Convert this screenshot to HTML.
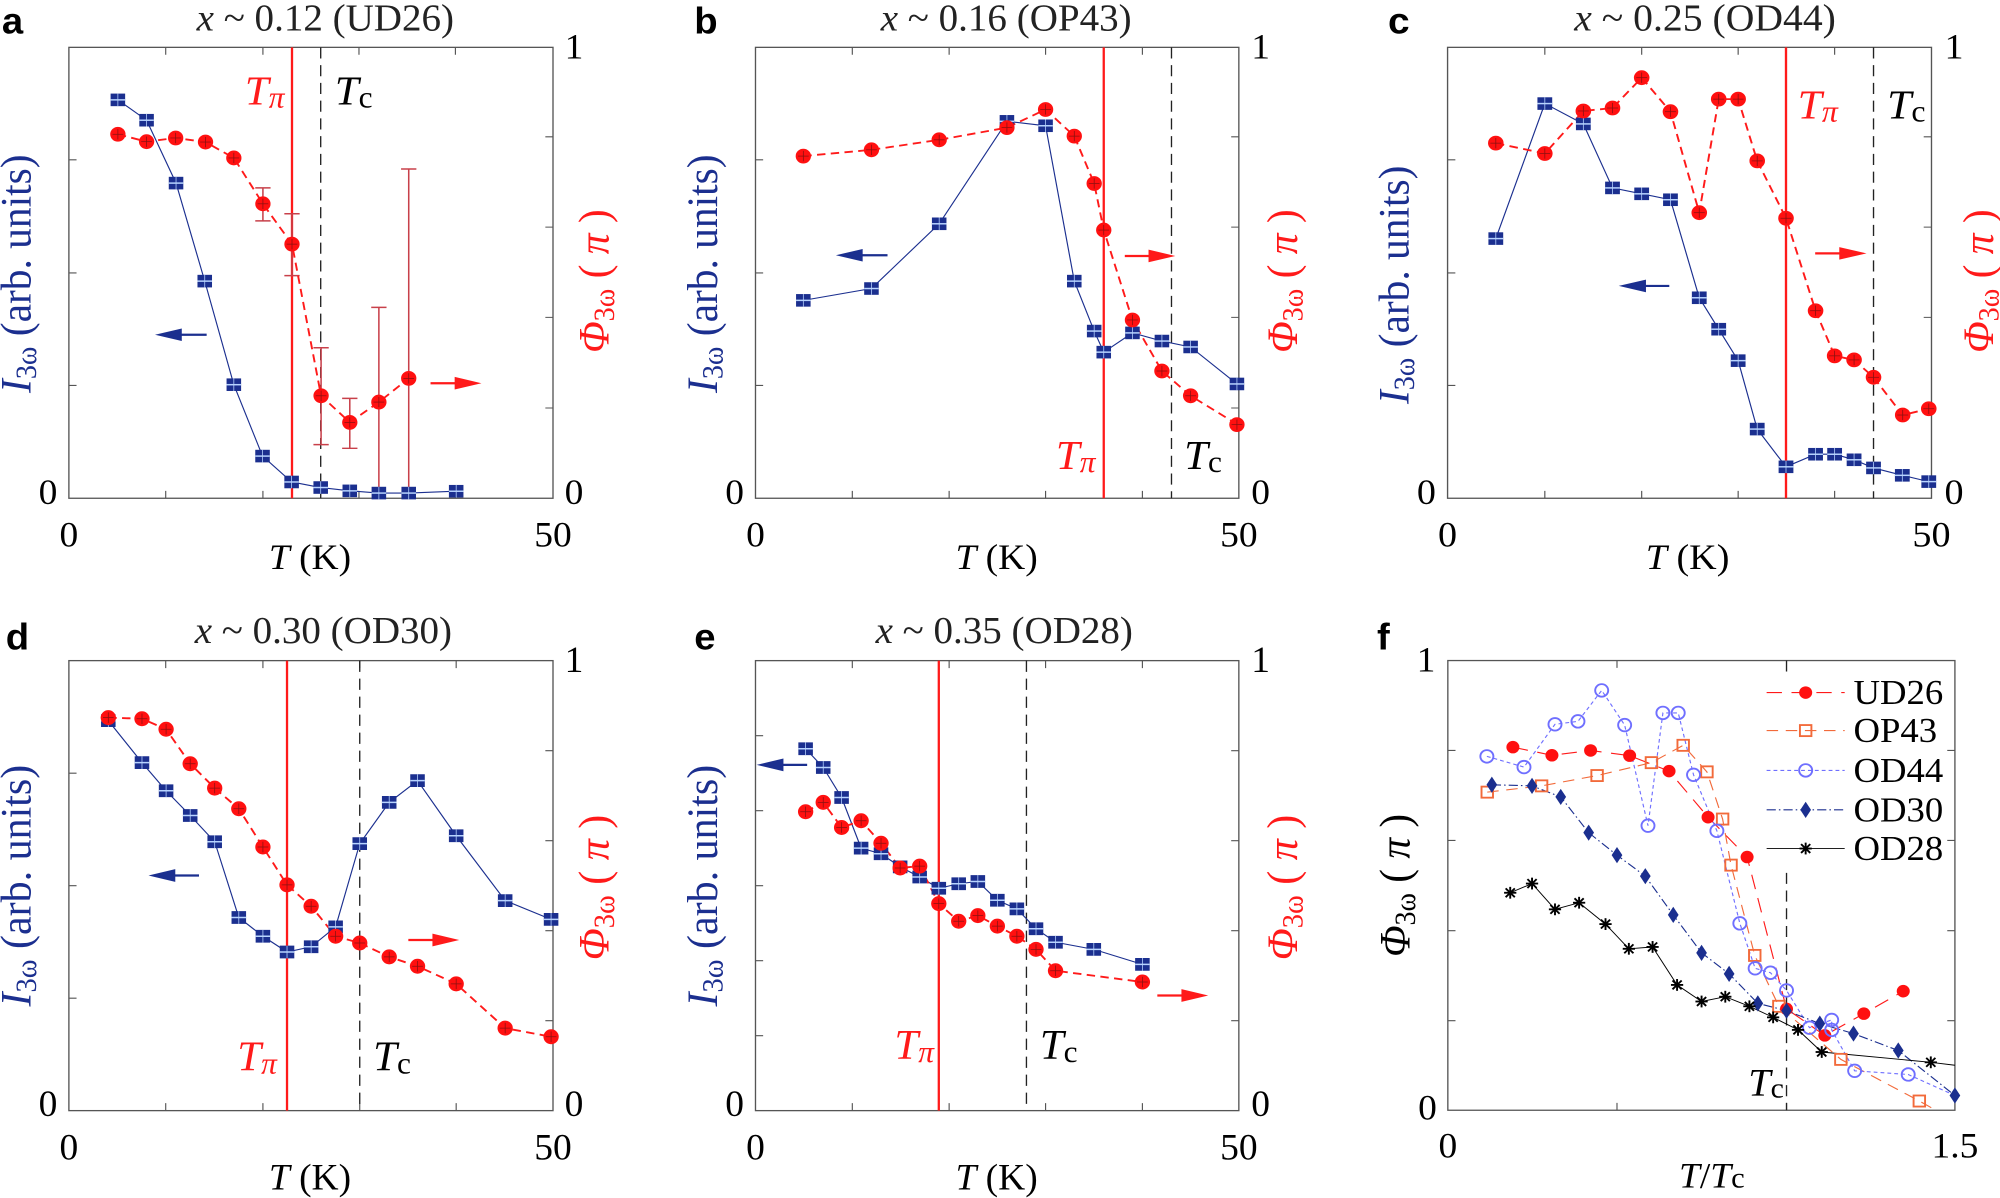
<!DOCTYPE html>
<html><head><meta charset="utf-8"><style>
html,body{margin:0;padding:0;background:#fff;}
svg{display:block;}
text{font-family:"Liberation Serif",serif;}
.t{font-size:98px;fill:#000;}
.ttl{font-size:102px;fill:#222;}
.let{font-family:"Liberation Sans",sans-serif;font-weight:bold;font-size:100px;}
.box{fill:none;stroke:#555;stroke-width:3.5;}
.tk{stroke:#555;stroke-width:3;}
.bl{fill:none;stroke:#1b2f8f;stroke-width:3;}
.rd{fill:none;stroke:#ff1a1a;stroke-width:5;stroke-dasharray:22 14;}
.tpi{stroke:#ff1a1a;stroke-width:6;}
.tc{stroke:#222;stroke-width:3.5;stroke-dasharray:30 18;}
.eb{stroke:#c8404a;stroke-width:4;fill:none;}
</style></head><body>
<svg width="2000" height="1198" viewBox="0 0 2000 1198" xmlns="http://www.w3.org/2000/svg" xmlns:xlink="http://www.w3.org/1999/xlink">
<defs>
<g id="sq"><rect x="-19" y="-17" width="38" height="34" fill="#1b2f8f"/><line x1="-19" x2="19" y1="0" y2="0" stroke="#b8d4ff" stroke-width="4"/><line x1="0" x2="0" y1="-17" y2="17" stroke="#b8d4ff" stroke-width="2"/></g>
<g id="ci"><circle r="20" fill="#ff1010"/><line x1="-14" x2="14" y1="0" y2="0" stroke="#8a1010" stroke-width="2"/><line x1="0" x2="0" y1="-14" y2="14" stroke="#8a1010" stroke-width="2"/></g>
<circle id="fc" r="17" fill="#ff1010"/>
<rect id="fs" x="-15" y="-15" width="30" height="30" fill="none" stroke="#f26a3a" stroke-width="5"/>
<circle id="fo" r="17" fill="none" stroke="#6f6fff" stroke-width="5"/>
<polygon id="fd" points="0,-22 14,0 0,22 -14,0" fill="#1b2f8f"/>
<g id="fa" stroke="#000" stroke-width="5"><line x1="-16" x2="16" y1="0" y2="0"/><line x1="0" x2="0" y1="-16" y2="16"/><line x1="-12" x2="12" y1="-12" y2="12"/><line x1="-12" x2="12" y1="12" y2="-12"/></g>
</defs>

<!-- Panel a -->
<g transform="translate(0,0) scale(0.3827,0.3699)">
<text class="let" x="5" y="90">a</text>
<text class="ttl" x="850" y="82" text-anchor="middle"><tspan font-style="italic">x</tspan> ~ 0.12 (UD26)</text>
<rect class="box" x="180" y="128" width="1265" height="1219"/>
<path class="tk" d="M433,1347v-20M687,1347v-20M938,1347v-20M1190,1347v-20M433,128v20M687,128v20M938,128v20M1190,128v20M180,432h20M180,738h20M180,1042h20M1445,370h-20M1445,614h-20M1445,858h-20M1445,1103h-20"/>
<text class="t" x="150" y="1362" text-anchor="end">0</text>
<text class="t" x="1500" y="158" text-anchor="middle">1</text>
<text class="t" x="1500" y="1362" text-anchor="middle">0</text>
<text class="t" x="180" y="1478" text-anchor="middle">0</text>
<text class="t" x="1445" y="1478" text-anchor="middle">50</text>
<text class="t" x="810" y="1538" text-anchor="middle"><tspan font-style="italic">T</tspan> (K)</text>
<text transform="translate(80,740) rotate(-90)" text-anchor="middle" font-size="112" fill="#1b2f8f"><tspan font-style="italic">I</tspan><tspan font-size="76" dy="14">3ω</tspan><tspan dy="-14"> (arb. units)</tspan></text>
<text transform="translate(1590,760) rotate(-90)" text-anchor="middle" font-size="112" fill="#ff1a1a"><tspan font-style="italic">Φ</tspan><tspan font-size="76" dy="14">3ω</tspan><tspan dy="-14"> ( </tspan><tspan font-style="italic">π</tspan><tspan> )</tspan></text>
<line class="tpi" x1="763" y1="128" x2="763" y2="1347"/>
<line class="tc" x1="838" y1="128" x2="838" y2="1347"/>
<text x="640" y="282" font-size="112" fill="#ff1a1a"><tspan font-style="italic">T</tspan><tspan font-size="82" font-style="italic" dy="8">π</tspan></text>
<text x="875" y="282" font-size="112" fill="#000"><tspan font-style="italic">T</tspan><tspan font-size="82" dy="8">c</tspan></text>
<path class="eb" d="M687,508V597M667,508h40M667,597h40M763,578V745M743,578h40M743,745h40M839,940V1202M819,940h40M819,1202h40M914,1077V1212M894,1077h40M894,1212h40M990,831V1330M970,831h40M1068,457V1330M1048,457h40"/>
<polyline class="bl" points="308,270 383,325 460,495 535,760 611,1040 686,1233 762,1303 838,1318 914,1327 990,1333 1068,1333 1192,1328"/>
<polyline class="rd" points="308,363 383,383 459,373 537,384 611,427 687,551 763,660 839,1070 914,1142 990,1087 1068,1023"/>
<use xlink:href="#sq" x="308" y="270"/><use xlink:href="#sq" x="383" y="325"/><use xlink:href="#sq" x="460" y="495"/><use xlink:href="#sq" x="535" y="760"/><use xlink:href="#sq" x="611" y="1040"/><use xlink:href="#sq" x="686" y="1233"/><use xlink:href="#sq" x="762" y="1303"/><use xlink:href="#sq" x="838" y="1318"/><use xlink:href="#sq" x="914" y="1327"/><use xlink:href="#sq" x="990" y="1333"/><use xlink:href="#sq" x="1068" y="1333"/><use xlink:href="#sq" x="1192" y="1328"/>
<use xlink:href="#ci" x="308" y="363"/><use xlink:href="#ci" x="383" y="383"/><use xlink:href="#ci" x="459" y="373"/><use xlink:href="#ci" x="537" y="384"/><use xlink:href="#ci" x="611" y="427"/><use xlink:href="#ci" x="687" y="551"/><use xlink:href="#ci" x="763" y="660"/><use xlink:href="#ci" x="839" y="1070"/><use xlink:href="#ci" x="914" y="1142"/><use xlink:href="#ci" x="990" y="1087"/><use xlink:href="#ci" x="1068" y="1023"/>
<line x1="540" y1="905" x2="450" y2="905" stroke="#1b2f8f" stroke-width="6"/><polygon points="405,905 475,888 475,922" fill="#1b2f8f"/>
<line x1="1125" y1="1036" x2="1200" y2="1036" stroke="#ff1a1a" stroke-width="6"/><polygon points="1258,1036 1188,1019 1188,1053" fill="#ff1a1a"/>
</g>

<!-- Panel b -->
<g transform="translate(700,0) scale(0.3827,0.3699)">
<text class="let" x="-15" y="90">b</text>
<text class="ttl" x="800" y="82" text-anchor="middle"><tspan font-style="italic">x</tspan> ~ 0.16 (OP43)</text>
<rect class="box" x="145" y="128" width="1263" height="1219"/>
<path class="tk" d="M398,1347v-20M651,1347v-20M903,1347v-20M1156,1347v-20M398,128v20M651,128v20M903,128v20M1156,128v20M145,432h20M145,738h20M145,1042h20M1408,370h-20M1408,614h-20M1408,858h-20M1408,1103h-20"/>
<text class="t" x="115" y="1362" text-anchor="end">0</text>
<text class="t" x="1465" y="158" text-anchor="middle">1</text>
<text class="t" x="1465" y="1362" text-anchor="middle">0</text>
<text class="t" x="145" y="1478" text-anchor="middle">0</text>
<text class="t" x="1408" y="1478" text-anchor="middle">50</text>
<text class="t" x="775" y="1538" text-anchor="middle"><tspan font-style="italic">T</tspan> (K)</text>
<text transform="translate(45,740) rotate(-90)" text-anchor="middle" font-size="112" fill="#1b2f8f"><tspan font-style="italic">I</tspan><tspan font-size="76" dy="14">3ω</tspan><tspan dy="-14"> (arb. units)</tspan></text>
<text transform="translate(1560,760) rotate(-90)" text-anchor="middle" font-size="112" fill="#ff1a1a"><tspan font-style="italic">Φ</tspan><tspan font-size="76" dy="14">3ω</tspan><tspan dy="-14"> ( </tspan><tspan font-style="italic">π</tspan><tspan> )</tspan></text>
<line class="tpi" x1="1055" y1="128" x2="1055" y2="1347"/>
<line class="tc" x1="1232" y1="128" x2="1232" y2="1347"/>
<text x="930" y="1268" font-size="112" fill="#ff1a1a"><tspan font-style="italic">T</tspan><tspan font-size="82" font-style="italic" dy="8">π</tspan></text>
<text x="1265" y="1268" font-size="112" fill="#000"><tspan font-style="italic">T</tspan><tspan font-size="82" dy="8">c</tspan></text>
<polyline class="bl" points="270,812 448,780 625,605 802,328 903,340 978,760 1030,895 1055,952 1130,900 1207,922 1282,938 1403,1038"/>
<polyline class="rd" points="270,422 448,405 625,378 802,345 903,296 978,368 1030,496 1055,622 1130,865 1207,1003 1282,1070 1405,1148"/>
<use xlink:href="#sq" x="270" y="812"/><use xlink:href="#sq" x="448" y="780"/><use xlink:href="#sq" x="625" y="605"/><use xlink:href="#sq" x="802" y="328"/><use xlink:href="#sq" x="903" y="340"/><use xlink:href="#sq" x="978" y="760"/><use xlink:href="#sq" x="1030" y="895"/><use xlink:href="#sq" x="1055" y="952"/><use xlink:href="#sq" x="1130" y="900"/><use xlink:href="#sq" x="1207" y="922"/><use xlink:href="#sq" x="1282" y="938"/><use xlink:href="#sq" x="1403" y="1038"/>
<use xlink:href="#ci" x="270" y="422"/><use xlink:href="#ci" x="448" y="405"/><use xlink:href="#ci" x="625" y="378"/><use xlink:href="#ci" x="802" y="345"/><use xlink:href="#ci" x="903" y="296"/><use xlink:href="#ci" x="978" y="368"/><use xlink:href="#ci" x="1030" y="496"/><use xlink:href="#ci" x="1055" y="622"/><use xlink:href="#ci" x="1130" y="865"/><use xlink:href="#ci" x="1207" y="1003"/><use xlink:href="#ci" x="1282" y="1070"/><use xlink:href="#ci" x="1403" y="1148"/>
<line x1="490" y1="690" x2="400" y2="690" stroke="#1b2f8f" stroke-width="6"/><polygon points="355,690 425,673 425,707" fill="#1b2f8f"/>
<line x1="1110" y1="692" x2="1185" y2="692" stroke="#ff1a1a" stroke-width="6"/><polygon points="1242,692 1172,675 1172,709" fill="#ff1a1a"/>
</g>

<!-- Panel c -->
<g transform="translate(1390,0) scale(0.389,0.3699)">
<text class="let" x="-5" y="90">c</text>
<text class="ttl" x="810" y="82" text-anchor="middle"><tspan font-style="italic">x</tspan> ~ 0.25 (OD44)</text>
<rect class="box" x="148" y="128" width="1244" height="1219"/>
<path class="tk" d="M398,1347v-20M647,1347v-20M895,1347v-20M1143,1347v-20M398,128v20M647,128v20M895,128v20M1143,128v20M148,432h20M148,738h20M148,1042h20M1392,370h-20M1392,614h-20M1392,858h-20M1392,1103h-20"/>
<text class="t" x="118" y="1362" text-anchor="end">0</text>
<text class="t" x="1450" y="158" text-anchor="middle">1</text>
<text class="t" x="1450" y="1362" text-anchor="middle">0</text>
<text class="t" x="148" y="1478" text-anchor="middle">0</text>
<text class="t" x="1392" y="1478" text-anchor="middle">50</text>
<text class="t" x="765" y="1538" text-anchor="middle"><tspan font-style="italic">T</tspan> (K)</text>
<text transform="translate(48,770) rotate(-90)" text-anchor="middle" font-size="112" fill="#1b2f8f"><tspan font-style="italic">I</tspan><tspan font-size="76" dy="14">3ω</tspan><tspan dy="-14"> (arb. units)</tspan></text>
<text transform="translate(1550,760) rotate(-90)" text-anchor="middle" font-size="112" fill="#ff1a1a"><tspan font-style="italic">Φ</tspan><tspan font-size="76" dy="14">3ω</tspan><tspan dy="-14"> ( </tspan><tspan font-style="italic">π</tspan><tspan> )</tspan></text>
<line class="tpi" x1="1018" y1="128" x2="1018" y2="1347"/>
<line class="tc" x1="1243" y1="128" x2="1243" y2="1347"/>
<text x="1048" y="320" font-size="112" fill="#ff1a1a"><tspan font-style="italic">T</tspan><tspan font-size="82" font-style="italic" dy="8">π</tspan></text>
<text x="1278" y="320" font-size="112" fill="#000"><tspan font-style="italic">T</tspan><tspan font-size="82" dy="8">c</tspan></text>
<polyline class="bl" points="272,645 398,280 497,335 572,508 647,524 721,540 795,805 845,890 895,975 944,1160 1018,1262 1094,1228 1143,1228 1193,1243 1243,1265 1317,1285 1385,1302"/>
<polyline class="rd" points="272,387 398,415 497,300 572,292 647,210 721,302 795,575 845,268 895,268 944,435 1018,590 1094,840 1143,962 1193,973 1243,1020 1318,1122 1385,1105"/>
<use xlink:href="#sq" x="272" y="645"/><use xlink:href="#sq" x="398" y="280"/><use xlink:href="#sq" x="497" y="335"/><use xlink:href="#sq" x="572" y="508"/><use xlink:href="#sq" x="647" y="524"/><use xlink:href="#sq" x="721" y="540"/><use xlink:href="#sq" x="795" y="805"/><use xlink:href="#sq" x="845" y="890"/><use xlink:href="#sq" x="895" y="975"/><use xlink:href="#sq" x="944" y="1160"/><use xlink:href="#sq" x="1018" y="1262"/><use xlink:href="#sq" x="1094" y="1228"/><use xlink:href="#sq" x="1143" y="1228"/><use xlink:href="#sq" x="1193" y="1243"/><use xlink:href="#sq" x="1243" y="1265"/><use xlink:href="#sq" x="1317" y="1285"/><use xlink:href="#sq" x="1385" y="1302"/>
<use xlink:href="#ci" x="272" y="387"/><use xlink:href="#ci" x="398" y="415"/><use xlink:href="#ci" x="497" y="300"/><use xlink:href="#ci" x="572" y="292"/><use xlink:href="#ci" x="647" y="210"/><use xlink:href="#ci" x="721" y="302"/><use xlink:href="#ci" x="795" y="575"/><use xlink:href="#ci" x="845" y="268"/><use xlink:href="#ci" x="895" y="268"/><use xlink:href="#ci" x="944" y="435"/><use xlink:href="#ci" x="1018" y="590"/><use xlink:href="#ci" x="1094" y="840"/><use xlink:href="#ci" x="1143" y="962"/><use xlink:href="#ci" x="1193" y="973"/><use xlink:href="#ci" x="1243" y="1020"/><use xlink:href="#ci" x="1318" y="1122"/><use xlink:href="#ci" x="1385" y="1105"/>
<line x1="718" y1="773" x2="630" y2="773" stroke="#1b2f8f" stroke-width="6"/><polygon points="588,773 658,756 658,790" fill="#1b2f8f"/>
<line x1="1093" y1="685" x2="1168" y2="685" stroke="#ff1a1a" stroke-width="6"/><polygon points="1225,685 1155,668 1155,702" fill="#ff1a1a"/>
</g>

<!-- Panel d -->
<g transform="translate(0,610) scale(0.3827,0.375)">
<text class="let" x="15" y="105">d</text>
<text class="ttl" x="845" y="88" text-anchor="middle"><tspan font-style="italic">x</tspan> ~ 0.30 (OD30)</text>
<rect class="box" x="180" y="135" width="1265" height="1200"/>
<path class="tk" d="M433,1335v-20M687,1335v-20M940,1335v-20M1192,1335v-20M433,135v20M687,135v20M940,135v20M1192,135v20M180,435h20M180,735h20M180,1035h20M1445,375h-20M1445,615h-20M1445,855h-20M1445,1095h-20"/>
<text class="t" x="150" y="1350" text-anchor="end">0</text>
<text class="t" x="1500" y="165" text-anchor="middle">1</text>
<text class="t" x="1500" y="1350" text-anchor="middle">0</text>
<text class="t" x="180" y="1465" text-anchor="middle">0</text>
<text class="t" x="1445" y="1465" text-anchor="middle">50</text>
<text class="t" x="810" y="1545" text-anchor="middle"><tspan font-style="italic">T</tspan> (K)</text>
<text transform="translate(80,735) rotate(-90)" text-anchor="middle" font-size="112" fill="#1b2f8f"><tspan font-style="italic">I</tspan><tspan font-size="76" dy="14">3ω</tspan><tspan dy="-14"> (arb. units)</tspan></text>
<text transform="translate(1590,740) rotate(-90)" text-anchor="middle" font-size="112" fill="#ff1a1a"><tspan font-style="italic">Φ</tspan><tspan font-size="76" dy="14">3ω</tspan><tspan dy="-14"> ( </tspan><tspan font-style="italic">π</tspan><tspan> )</tspan></text>
<line class="tpi" x1="750" y1="135" x2="750" y2="1335"/>
<line class="tc" x1="940" y1="135" x2="940" y2="1335"/>
<text x="620" y="1228" font-size="112" fill="#ff1a1a"><tspan font-style="italic">T</tspan><tspan font-size="82" font-style="italic" dy="8">π</tspan></text>
<text x="975" y="1228" font-size="112" fill="#000"><tspan font-style="italic">T</tspan><tspan font-size="82" dy="8">c</tspan></text>
<polyline class="bl" points="283,295 371,407 434,482 497,548 561,618 624,820 687,870 750,912 813,898 877,845 940,623 1017,513 1091,455 1192,602 1320,775 1440,825"/>
<polyline class="rd" points="283,287 371,290 434,318 497,410 561,475 624,530 687,632 750,733 813,790 877,870 940,888 1017,925 1091,950 1192,997 1320,1115 1440,1138"/>
<use xlink:href="#sq" x="283" y="295"/><use xlink:href="#sq" x="371" y="407"/><use xlink:href="#sq" x="434" y="482"/><use xlink:href="#sq" x="497" y="548"/><use xlink:href="#sq" x="561" y="618"/><use xlink:href="#sq" x="624" y="820"/><use xlink:href="#sq" x="687" y="870"/><use xlink:href="#sq" x="750" y="912"/><use xlink:href="#sq" x="813" y="898"/><use xlink:href="#sq" x="877" y="845"/><use xlink:href="#sq" x="940" y="623"/><use xlink:href="#sq" x="1017" y="513"/><use xlink:href="#sq" x="1091" y="455"/><use xlink:href="#sq" x="1192" y="602"/><use xlink:href="#sq" x="1320" y="775"/><use xlink:href="#sq" x="1440" y="825"/>
<use xlink:href="#ci" x="283" y="287"/><use xlink:href="#ci" x="371" y="290"/><use xlink:href="#ci" x="434" y="318"/><use xlink:href="#ci" x="497" y="410"/><use xlink:href="#ci" x="561" y="475"/><use xlink:href="#ci" x="624" y="530"/><use xlink:href="#ci" x="687" y="632"/><use xlink:href="#ci" x="750" y="733"/><use xlink:href="#ci" x="813" y="790"/><use xlink:href="#ci" x="877" y="870"/><use xlink:href="#ci" x="940" y="888"/><use xlink:href="#ci" x="1017" y="925"/><use xlink:href="#ci" x="1091" y="950"/><use xlink:href="#ci" x="1192" y="997"/><use xlink:href="#ci" x="1320" y="1115"/><use xlink:href="#ci" x="1440" y="1138"/>
<line x1="520" y1="708" x2="430" y2="708" stroke="#1b2f8f" stroke-width="6"/><polygon points="388,708 458,691 458,725" fill="#1b2f8f"/>
<line x1="1067" y1="880" x2="1142" y2="880" stroke="#ff1a1a" stroke-width="6"/><polygon points="1200,880 1130,863 1130,897" fill="#ff1a1a"/>
</g>

<!-- Panel e -->
<g transform="translate(700,610) scale(0.3827,0.375)">
<text class="let" x="-15" y="105">e</text>
<text class="ttl" x="795" y="88" text-anchor="middle"><tspan font-style="italic">x</tspan> ~ 0.35 (OD28)</text>
<rect class="box" x="145" y="135" width="1263" height="1200"/>
<path class="tk" d="M398,1335v-20M651,1335v-20M903,1335v-20M1156,1335v-20M398,135v20M651,135v20M903,135v20M1156,135v20M145,335h20M145,535h20M145,735h20M145,935h20M145,1135h20M1408,375h-20M1408,615h-20M1408,855h-20M1408,1095h-20"/>
<text class="t" x="115" y="1350" text-anchor="end">0</text>
<text class="t" x="1465" y="165" text-anchor="middle">1</text>
<text class="t" x="1465" y="1350" text-anchor="middle">0</text>
<text class="t" x="145" y="1465" text-anchor="middle">0</text>
<text class="t" x="1408" y="1465" text-anchor="middle">50</text>
<text class="t" x="775" y="1545" text-anchor="middle"><tspan font-style="italic">T</tspan> (K)</text>
<text transform="translate(45,735) rotate(-90)" text-anchor="middle" font-size="112" fill="#1b2f8f"><tspan font-style="italic">I</tspan><tspan font-size="76" dy="14">3ω</tspan><tspan dy="-14"> (arb. units)</tspan></text>
<text transform="translate(1560,740) rotate(-90)" text-anchor="middle" font-size="112" fill="#ff1a1a"><tspan font-style="italic">Φ</tspan><tspan font-size="76" dy="14">3ω</tspan><tspan dy="-14"> ( </tspan><tspan font-style="italic">π</tspan><tspan> )</tspan></text>
<line class="tpi" x1="624" y1="135" x2="624" y2="1335"/>
<line class="tc" x1="853" y1="135" x2="853" y2="1335"/>
<text x="508" y="1198" font-size="112" fill="#ff1a1a"><tspan font-style="italic">T</tspan><tspan font-size="82" font-style="italic" dy="8">π</tspan></text>
<text x="888" y="1198" font-size="112" fill="#000"><tspan font-style="italic">T</tspan><tspan font-size="82" dy="8">c</tspan></text>
<polyline class="bl" points="276,370 322,420 370,500 421,635 473,650 523,685 574,712 624,742 676,730 726,724 777,774 828,797 878,850 929,886 1029,905 1156,945"/>
<polyline class="rd" points="276,538 322,513 370,580 421,562 473,622 523,688 574,683 624,783 676,830 726,815 777,843 828,870 878,905 929,962 1156,992"/>
<use xlink:href="#sq" x="276" y="370"/><use xlink:href="#sq" x="322" y="420"/><use xlink:href="#sq" x="370" y="500"/><use xlink:href="#sq" x="421" y="635"/><use xlink:href="#sq" x="473" y="650"/><use xlink:href="#sq" x="523" y="685"/><use xlink:href="#sq" x="574" y="712"/><use xlink:href="#sq" x="624" y="742"/><use xlink:href="#sq" x="676" y="730"/><use xlink:href="#sq" x="726" y="724"/><use xlink:href="#sq" x="777" y="774"/><use xlink:href="#sq" x="828" y="797"/><use xlink:href="#sq" x="878" y="850"/><use xlink:href="#sq" x="929" y="886"/><use xlink:href="#sq" x="1029" y="905"/><use xlink:href="#sq" x="1156" y="945"/>
<use xlink:href="#ci" x="276" y="538"/><use xlink:href="#ci" x="322" y="513"/><use xlink:href="#ci" x="370" y="580"/><use xlink:href="#ci" x="421" y="562"/><use xlink:href="#ci" x="473" y="622"/><use xlink:href="#ci" x="523" y="688"/><use xlink:href="#ci" x="574" y="683"/><use xlink:href="#ci" x="624" y="783"/><use xlink:href="#ci" x="676" y="830"/><use xlink:href="#ci" x="726" y="815"/><use xlink:href="#ci" x="777" y="843"/><use xlink:href="#ci" x="828" y="870"/><use xlink:href="#ci" x="878" y="905"/><use xlink:href="#ci" x="929" y="962"/><use xlink:href="#ci" x="1156" y="992"/>
<line x1="280" y1="413" x2="190" y2="413" stroke="#1b2f8f" stroke-width="6"/><polygon points="148,413 218,396 218,430" fill="#1b2f8f"/>
<line x1="1195" y1="1028" x2="1270" y2="1028" stroke="#ff1a1a" stroke-width="6"/><polygon points="1328,1028 1258,1011 1258,1045" fill="#ff1a1a"/>
</g>

<!-- Panel f -->
<g transform="translate(1400,620) scale(0.3827,0.3686)">
<text class="let" x="-60" y="80">f</text>
<rect class="box" x="125" y="110" width="1325" height="1220"/>
<path class="tk" d="M567,1330v-20M1010,1330v-20M567,110v20M125,354h20M125,598h20M125,843h20M125,1087h20M1450,354h-20M1450,598h-20M1450,843h-20M1450,1087h-20"/>
<line class="tc" x1="1010" y1="110" x2="1010" y2="1330" stroke="#666" stroke-width="3"/>
<text class="t" x="68" y="140" text-anchor="middle">1</text>
<text class="t" x="72" y="1355" text-anchor="middle">0</text>
<text class="t" x="125" y="1458" text-anchor="middle">0</text>
<text class="t" x="1450" y="1458" text-anchor="middle">1.5</text>
<text class="t" x="815" y="1540" text-anchor="middle"><tspan font-style="italic">T</tspan>/<tspan font-style="italic">T</tspan><tspan font-size="80">c</tspan></text>
<text transform="translate(25,720) rotate(-90)" text-anchor="middle" font-size="112" fill="#000"><tspan font-style="italic">Φ</tspan><tspan font-size="76" dy="14">3ω</tspan><tspan dy="-14"> ( </tspan><tspan font-style="italic">π</tspan><tspan> )</tspan></text>
<text x="910" y="1290" font-size="105" fill="#000"><tspan font-style="italic">T</tspan><tspan font-size="78" dy="6">c</tspan></text>
<polyline fill="none" stroke="#ff1a1a" stroke-width="3" stroke-dasharray="40 25" points="295,345 397,367 498,354 600,368 703,410 805,535 907,643 1010,1055 1110,1127 1212,1068 1315,1007"/>
<polyline fill="none" stroke="#f26a3a" stroke-width="3" stroke-dasharray="30 20" points="228,467 370,450 515,422 657,387 740,340 802,412 843,540 865,665 927,910 990,1048 1152,1192 1357,1305 1400,1330"/>
<polyline fill="none" stroke="#6f6fff" stroke-width="3" stroke-dasharray="10 8" points="227,370 324,399 405,283 465,275 527,191 587,285 648,558 687,252 727,252 767,420 828,572 888,823 928,945 968,957 1010,1005 1070,1106 1128,1085 1128,1112 1188,1223 1328,1233 1450,1290"/>
<polyline fill="none" stroke="#1b2f8f" stroke-width="3" stroke-dasharray="24 8 4 8" points="240,447 345,450 420,480 493,577 567,638 641,695 714,800 788,903 860,960 935,1040 1010,1060 1097,1095 1185,1122 1302,1168 1450,1290"/>
<polyline fill="none" stroke="#000" stroke-width="2.5" points="288,740 345,715 405,785 468,767 537,825 598,892 660,887 724,990 788,1035 850,1022 913,1048 975,1078 1040,1112 1102,1172 1387,1200 1450,1208"/>
<use xlink:href="#fc" x="295" y="345"/><use xlink:href="#fc" x="397" y="367"/><use xlink:href="#fc" x="498" y="354"/><use xlink:href="#fc" x="600" y="368"/><use xlink:href="#fc" x="703" y="410"/><use xlink:href="#fc" x="805" y="535"/><use xlink:href="#fc" x="907" y="643"/><use xlink:href="#fc" x="1010" y="1055"/><use xlink:href="#fc" x="1110" y="1127"/><use xlink:href="#fc" x="1212" y="1068"/><use xlink:href="#fc" x="1315" y="1007"/>
<use xlink:href="#fs" x="228" y="467"/><use xlink:href="#fs" x="370" y="450"/><use xlink:href="#fs" x="515" y="422"/><use xlink:href="#fs" x="657" y="387"/><use xlink:href="#fs" x="740" y="340"/><use xlink:href="#fs" x="802" y="412"/><use xlink:href="#fs" x="843" y="540"/><use xlink:href="#fs" x="865" y="665"/><use xlink:href="#fs" x="927" y="910"/><use xlink:href="#fs" x="990" y="1048"/><use xlink:href="#fs" x="1152" y="1192"/><use xlink:href="#fs" x="1357" y="1305"/>
<use xlink:href="#fo" x="227" y="370"/><use xlink:href="#fo" x="324" y="399"/><use xlink:href="#fo" x="405" y="283"/><use xlink:href="#fo" x="465" y="275"/><use xlink:href="#fo" x="527" y="191"/><use xlink:href="#fo" x="587" y="285"/><use xlink:href="#fo" x="648" y="558"/><use xlink:href="#fo" x="687" y="252"/><use xlink:href="#fo" x="727" y="252"/><use xlink:href="#fo" x="767" y="420"/><use xlink:href="#fo" x="828" y="572"/><use xlink:href="#fo" x="888" y="823"/><use xlink:href="#fo" x="928" y="945"/><use xlink:href="#fo" x="968" y="957"/><use xlink:href="#fo" x="1010" y="1005"/><use xlink:href="#fo" x="1070" y="1106"/><use xlink:href="#fo" x="1128" y="1085"/><use xlink:href="#fo" x="1128" y="1112"/><use xlink:href="#fo" x="1188" y="1223"/><use xlink:href="#fo" x="1328" y="1233"/>
<use xlink:href="#fd" x="240" y="447"/><use xlink:href="#fd" x="345" y="450"/><use xlink:href="#fd" x="420" y="480"/><use xlink:href="#fd" x="493" y="577"/><use xlink:href="#fd" x="567" y="638"/><use xlink:href="#fd" x="641" y="695"/><use xlink:href="#fd" x="714" y="800"/><use xlink:href="#fd" x="788" y="903"/><use xlink:href="#fd" x="860" y="960"/><use xlink:href="#fd" x="935" y="1040"/><use xlink:href="#fd" x="1010" y="1060"/><use xlink:href="#fd" x="1097" y="1095"/><use xlink:href="#fd" x="1185" y="1122"/><use xlink:href="#fd" x="1302" y="1168"/><use xlink:href="#fd" x="1450" y="1290"/>
<use xlink:href="#fa" x="288" y="740"/><use xlink:href="#fa" x="345" y="715"/><use xlink:href="#fa" x="405" y="785"/><use xlink:href="#fa" x="468" y="767"/><use xlink:href="#fa" x="537" y="825"/><use xlink:href="#fa" x="598" y="892"/><use xlink:href="#fa" x="660" y="887"/><use xlink:href="#fa" x="724" y="990"/><use xlink:href="#fa" x="788" y="1035"/><use xlink:href="#fa" x="850" y="1022"/><use xlink:href="#fa" x="913" y="1048"/><use xlink:href="#fa" x="975" y="1078"/><use xlink:href="#fa" x="1040" y="1112"/><use xlink:href="#fa" x="1102" y="1172"/><use xlink:href="#fa" x="1387" y="1200"/>
<!-- legend -->
<rect x="945" y="140" width="480" height="540" fill="#fff"/>
<line x1="958" x2="1162" y1="197" y2="197" stroke="#ff1a1a" stroke-width="3" stroke-dasharray="40 25"/><use xlink:href="#fc" x="1060" y="197"/>
<line x1="958" x2="1162" y1="300" y2="300" stroke="#f26a3a" stroke-width="3" stroke-dasharray="30 20"/><use xlink:href="#fs" x="1060" y="300"/>
<line x1="958" x2="1162" y1="408" y2="408" stroke="#6f6fff" stroke-width="3" stroke-dasharray="10 8"/><use xlink:href="#fo" x="1060" y="408"/>
<line x1="958" x2="1162" y1="515" y2="515" stroke="#1b2f8f" stroke-width="3" stroke-dasharray="24 8 4 8"/><use xlink:href="#fd" x="1060" y="515"/>
<line x1="958" x2="1162" y1="620" y2="620" stroke="#000" stroke-width="2.5"/><use xlink:href="#fa" x="1060" y="620"/>
<text x="1185" y="228" font-size="96">UD26</text>
<text x="1185" y="331" font-size="96">OP43</text>
<text x="1185" y="439" font-size="96">OD44</text>
<text x="1185" y="546" font-size="96">OD30</text>
<text x="1185" y="651" font-size="96">OD28</text>
</g>
</svg>
</body></html>
